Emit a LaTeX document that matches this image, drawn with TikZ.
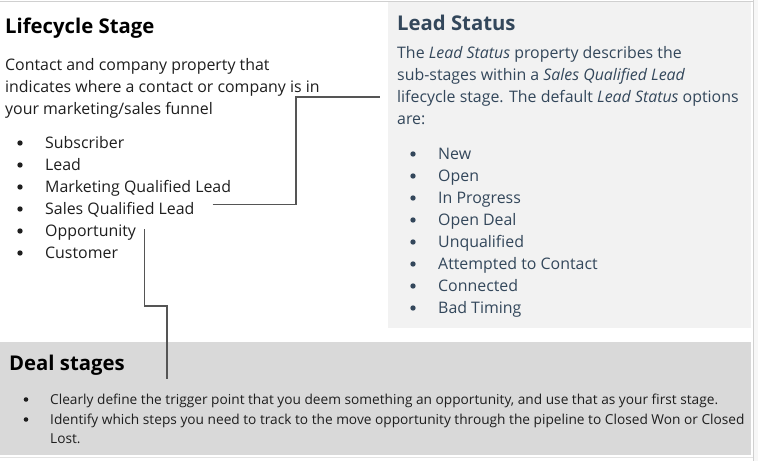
\documentclass[tikz,border=0pt]{standalone}
\usepackage{fontspec}
\setmainfont{Open Sans}
\usepackage{tikz}
\usetikzlibrary{calc, positioning}

\definecolor{leadbg}{HTML}{F2F2F2}
\definecolor{dealbg}{HTML}{D9D9D9}
\definecolor{leadtext}{HTML}{33475B}
\definecolor{edgegray}{HTML}{D0D0D0}
\definecolor{linkgray}{HTML}{555555}
\definecolor{bodytext}{HTML}{1E1E1E}

\tikzset{
  txt/.style={anchor=base west, inner sep=0pt, text=bodytext, font=\fontsize{15.9}{22}\selectfont},
  small/.style={txt, font=\fontsize{13.7}{19}\selectfont},
  head/.style={anchor=base west, inner sep=0pt, text=black, font=\fontsize{20.3}{24}\selectfont\bfseries},
  dot/.style={circle, fill=bodytext, inner sep=0pt, minimum size=5.4pt},
  link/.style={draw=linkgray, line width=1.1pt}
}

\begin{document}
\begin{tikzpicture}[x=1pt, y=-1pt]
            \useasboundingbox (0,0) rectangle (758,461);
            % panels
            \fill[leadbg] (388,1) rectangle (751,328);
            \fill[dealbg] (0,342) rectangle (751,455);
            \draw[edgegray, line width=0.8pt] (0,1) -- (753,1);
            \draw[edgegray, line width=1pt] (753,0) -- (753,461);
            \fill[leadbg!60!white] (754,0) rectangle (758,461);
            \draw[edgegray!60!white, line width=0.8pt] (0,457) -- (753,457);

            % lifecycle stage
            \node[head] (lchead) at (5,33) {Lifecycle Stage};
            \node[txt] (lcdesc) at (5,70) {Contact and company property that};
            \node[txt] (lcdesc2) at (5,92) {indicates where a contact or company is in};
            \node[txt] (lcdesc3) at (5,114) {your marketing/sales funnel};
            \foreach \t [count=\i] in {Subscriber, Lead, Marketing Qualified Lead,
                Sales Qualified Lead, Opportunity, Customer} {
              \node[dot] (lcdot\i) at (20,121+22*\i) {};
              \node[txt] (lc\i) at (45,126+22*\i) {\t};
            }

            % lead status
            \node[head, text=leadtext] (lshead) at (397,30) {Lead Status};
            \node[txt, text=leadtext] (lsdesc) at (397,58) {The \textit{Lead Status} property describes the};
            \node[txt, text=leadtext] (lsdesc2) at (397,80) {sub-stages within a \textit{Sales Qualified Lead}};
            \node[txt, text=leadtext] (lsdesc3) at (397,102) {lifecycle stage. The default \textit{Lead Status} options};
            \node[txt, text=leadtext] (lsdesc4) at (397,124) {are:};
            \foreach \t [count=\i] in {New, Open, In Progress, Open Deal, Unqualified,
                Attempted to Contact, Connected, Bad Timing} {
              \node[dot, fill=leadtext] (lsdot\i) at (413,132+22*\i) {};
              \node[txt, text=leadtext] (ls\i) at (438,137+22*\i) {\t};
            }

            % deal stages
            \node[head] (dshead) at (9,370) {Deal stages};
            \node[dot, minimum size=4.6pt] (dsdot1) at (26,399.5) {};
            \node[small] (ds1) at (50,404)
              {Clearly define the trigger point that you deem something an opportunity, and use that as your first stage.};
            \node[dot, minimum size=4.6pt] (dsdot2) at (26,419.5) {};
            \node[small] (ds2) at (50,424)
              {Identify which steps you need to track to the move opportunity through the pipeline to Closed Won or Closed};
            \node[small] (ds3) at (50,443) {Lost.};

            % connectors
            \coordinate (lsin) at (380,97);
            \coordinate (dsin) at (167,379);
            \draw[link] ($(lc4.east)+(18,-5)$) -| (296,97) -- (lsin);
            \draw[link] ($(lc5.east)+(8,-3)$) |- (167,306) -- (dsin);
\end{tikzpicture}
\end{document}
